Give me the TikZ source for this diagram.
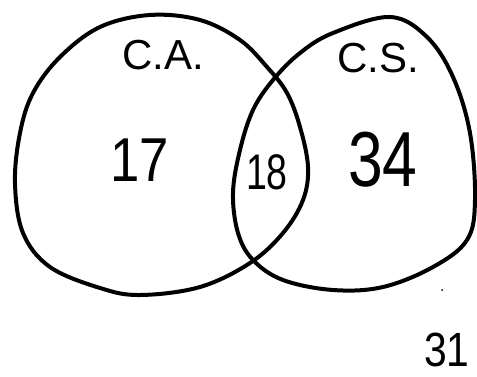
\documentclass[tikz,border=0pt]{standalone}
\usepackage{fontspec}
\setmainfont{Liberation Sans}
\tikzset{
  setline/.style={line width=4pt, line join=round, black},
  lbl/.style={inner sep=0pt, anchor=center, text=black},
}
\begin{document}
\begin{tikzpicture}[x=1pt,y=-1pt]
\useasboundingbox (0,0) rectangle (477,377);
\fill[white] (0,0) rectangle (477,377);
% left set (C.A.)
\draw[setline] plot[smooth cycle, tension=0.6] coordinates {
 (150,15) (200,20) (240,40) (267,67) (287,93) (300,127) (308,167) (303,200)
 (283,233) (250,263) (200,287) (140,295) (100,288) (50,267) (23,233) (15,183)
 (20,133) (33,93) (60,57) (100,27)};
% right set (C.S.)
\draw[setline] plot[smooth cycle, tension=0.6] coordinates {
 (390,17) (427,37) (453,77) (470,133) (475,200) (467,240) (433,267) (383,287)
 (333,290) (283,280) (253,260) (238,233) (233,193) (240,150) (253,110)
 (273,80) (300,53) (333,33)};
\node[lbl, font=\fontsize{42}{42}\selectfont] (ca) at (163,55) {C.A.};
\node[lbl, font=\fontsize{42}{42}\selectfont] (cs) at (378,58) {C.S.};
\node[lbl, font=\fontsize{62}{62}\selectfont, xscale=0.85] (n17) at (140,160) {17};
\node[lbl, font=\fontsize{50}{50}\selectfont, xscale=0.75] (n18) at (267,172) {18};
\node[lbl, font=\fontsize{78}{78}\selectfont, xscale=0.8] (n34) at (383,160) {34};
\node[lbl, font=\fontsize{48}{48}\selectfont, xscale=0.85] (n31) at (447,350) {31};
\fill (442,290) circle (1pt);
\end{tikzpicture}
\end{document}
